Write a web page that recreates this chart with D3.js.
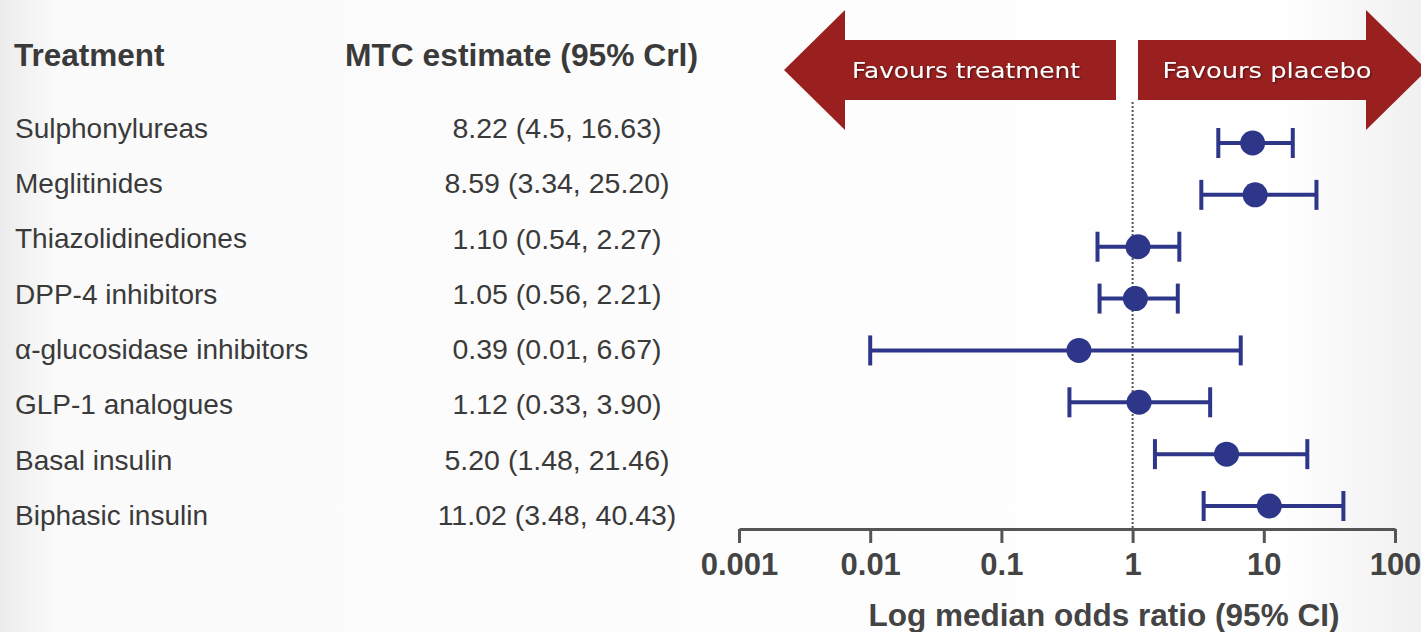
<!DOCTYPE html>
<html>
<head>
<meta charset="utf-8">
<script src="https://cdn.jsdelivr.net/npm/d3@7"></script>
<style>
  html, body { margin: 0; padding: 0; background: #fff; }
  svg { display: block; }
</style>
</head>
<body>
<svg id="chart" width="1421" height="632"></svg>
<script>
// Treatments, network meta-analysis estimates and credible intervals
const treatments = ["Sulphonylureas", "Meglitinides", "Thiazolidinediones", "DPP-4 inhibitors",
  "α-glucosidase inhibitors", "GLP-1 analogues", "Basal insulin", "Biphasic insulin"];
const estimates = [8.22, 8.59, 1.10, 1.05, 0.39, 1.12, 5.20, 11.02];
const lower = [4.5, 3.34, 0.54, 0.56, 0.01, 0.33, 1.48, 3.48];
const upper = [16.63, 25.20, 2.27, 2.21, 6.67, 3.90, 21.46, 40.43];
const estimateLabels = ["8.22 (4.5, 16.63)", "8.59 (3.34, 25.20)", "1.10 (0.54, 2.27)", "1.05 (0.56, 2.21)",
  "0.39 (0.01, 6.67)", "1.12 (0.33, 3.90)", "5.20 (1.48, 21.46)", "11.02 (3.48, 40.43)"];
const tickValues = [0.001, 0.01, 0.1, 1, 10, 100];
const tickLabels = ["0.001", "0.01", "0.1", "1", "10", "100"];

const svg = d3.select("#chart");
const W = 1421, H = 632;
const font = "'Liberation Sans', Arial, sans-serif";
const markColor = "#2e3689";
const arrowColor = "#9a2020";
const textColor = "#3a3a3a";

// soft grey wash at the edges of the slide
const defs = svg.append("defs");
const bg = defs.append("linearGradient").attr("id", "bg").attr("x1", 0).attr("x2", 1);
bg.append("stop").attr("offset", 0).attr("stop-color", "#ececec");
bg.append("stop").attr("offset", 0.04).attr("stop-color", "#fafafa");
bg.append("stop").attr("offset", 0.9).attr("stop-color", "#ffffff");
bg.append("stop").attr("offset", 1).attr("stop-color", "#f0f0f0");
svg.append("rect").attr("width", W).attr("height", H).attr("fill", "url(#bg)");

const shadow = defs.append("filter").attr("id", "txtShadow")
  .attr("x", "-10%").attr("y", "-30%").attr("width", "120%").attr("height", "160%");
shadow.append("feDropShadow").attr("dx", 1).attr("dy", 1).attr("stdDeviation", 0.8)
  .attr("flood-color", "#000").attr("flood-opacity", 0.55);

// scales
const x = d3.scaleLog().domain([0.001, 100]).range([739, 1395]);
const yRow = d3.scalePoint().domain(treatments).range([143, 506]);
const yText = d3.scalePoint().domain(treatments).range([128, 515]);

// table headers
svg.append("text").attr("x", 14).attr("y", 66).text("Treatment")
  .attr("font-family", font).attr("font-weight", "bold").attr("font-size", 31.5)
  .attr("fill", textColor);
svg.append("text").attr("x", 345).attr("y", 66).text("MTC estimate (95% Crl)")
  .attr("font-family", font).attr("font-weight", "bold").attr("font-size", 31.5)
  .attr("fill", textColor).attr("textLength", 353).attr("lengthAdjust", "spacingAndGlyphs");

// table rows
svg.append("g").selectAll("text").data(treatments).join("text")
  .attr("x", 15).attr("y", d => yText(d)).attr("dy", "0.35em")
  .attr("font-family", font).attr("font-size", 28).attr("fill", textColor)
  .text(d => d);
svg.append("g").selectAll("text").data(estimateLabels).join("text")
  .attr("x", 557).attr("y", (d, i) => yText(treatments[i])).attr("dy", "0.35em")
  .attr("text-anchor", "middle")
  .attr("font-family", font).attr("font-size", 28.5).attr("fill", textColor)
  .text(d => d);

// direction arrows
const arrowTop = 10, arrowBot = 130, shaftTop = 40, shaftBot = 100, mid = 70;
const leftArrow = [[784, mid], [845, arrowTop], [845, shaftTop], [1116, shaftTop],
  [1116, shaftBot], [845, shaftBot], [845, arrowBot]];
const rightArrow = [[1138, shaftTop], [1366, shaftTop], [1366, arrowTop], [1427, mid],
  [1366, arrowBot], [1366, shaftBot], [1138, shaftBot]];
svg.append("path").attr("d", d3.line()(leftArrow) + "Z").attr("fill", arrowColor);
svg.append("path").attr("d", d3.line()(rightArrow) + "Z").attr("fill", arrowColor);
svg.append("text").attr("x", 966).attr("y", 70).attr("dy", "0.35em").attr("text-anchor", "middle")
  .attr("font-family", "'DejaVu Sans', sans-serif").attr("font-size", 21.5).attr("fill", "#fff")
  .attr("filter", "url(#txtShadow)")
  .attr("textLength", 228).attr("lengthAdjust", "spacingAndGlyphs")
  .text("Favours treatment");
svg.append("text").attr("x", 1267).attr("y", 70).attr("dy", "0.35em").attr("text-anchor", "middle")
  .attr("font-family", "'DejaVu Sans', sans-serif").attr("font-size", 21.5).attr("fill", "#fff")
  .attr("filter", "url(#txtShadow)")
  .attr("textLength", 209).attr("lengthAdjust", "spacingAndGlyphs")
  .text("Favours placebo");

// line of no effect
const axisY = 529;
svg.append("line").attr("x1", x(1)).attr("x2", x(1)).attr("y1", 102).attr("y2", axisY)
  .attr("stroke", "#555").attr("stroke-width", 2).attr("stroke-dasharray", "2,2");

// axis
const axis = d3.axisBottom(x).tickValues(tickValues)
  .tickFormat((d, i) => tickLabels[i]).tickSize(14).tickSizeOuter(0).tickPadding(10);
const gAxis = svg.append("g").attr("transform", `translate(0,${axisY})`).call(axis);
gAxis.select(".domain").attr("stroke", "#555").attr("stroke-width", 3);
gAxis.selectAll(".tick line").attr("stroke", "#555").attr("stroke-width", 3);
gAxis.selectAll(".tick text").attr("font-family", font).attr("font-weight", "bold")
  .attr("font-size", 31).attr("fill", "#444");

svg.append("text").attr("x", 1104).attr("y", 626).attr("text-anchor", "middle")
  .attr("font-family", font).attr("font-weight", "bold").attr("font-size", 31.5).attr("fill", "#444")
  .text("Log median odds ratio (95% CI)");

// intervals and point estimates
const marks = svg.append("g");
treatments.forEach((t, i) => {
  const cy = yRow(t);
  const g = marks.append("g").attr("stroke", markColor).attr("stroke-width", 4).attr("fill", "none");
  g.append("line").attr("x1", x(lower[i])).attr("x2", x(upper[i])).attr("y1", cy).attr("y2", cy);
  g.append("line").attr("x1", x(lower[i])).attr("x2", x(lower[i])).attr("y1", cy - 15).attr("y2", cy + 15);
  g.append("line").attr("x1", x(upper[i])).attr("x2", x(upper[i])).attr("y1", cy - 15).attr("y2", cy + 15);
  marks.append("circle").attr("cx", x(estimates[i])).attr("cy", cy).attr("r", 12.5).attr("fill", markColor);
});
</script>
</body>
</html>
